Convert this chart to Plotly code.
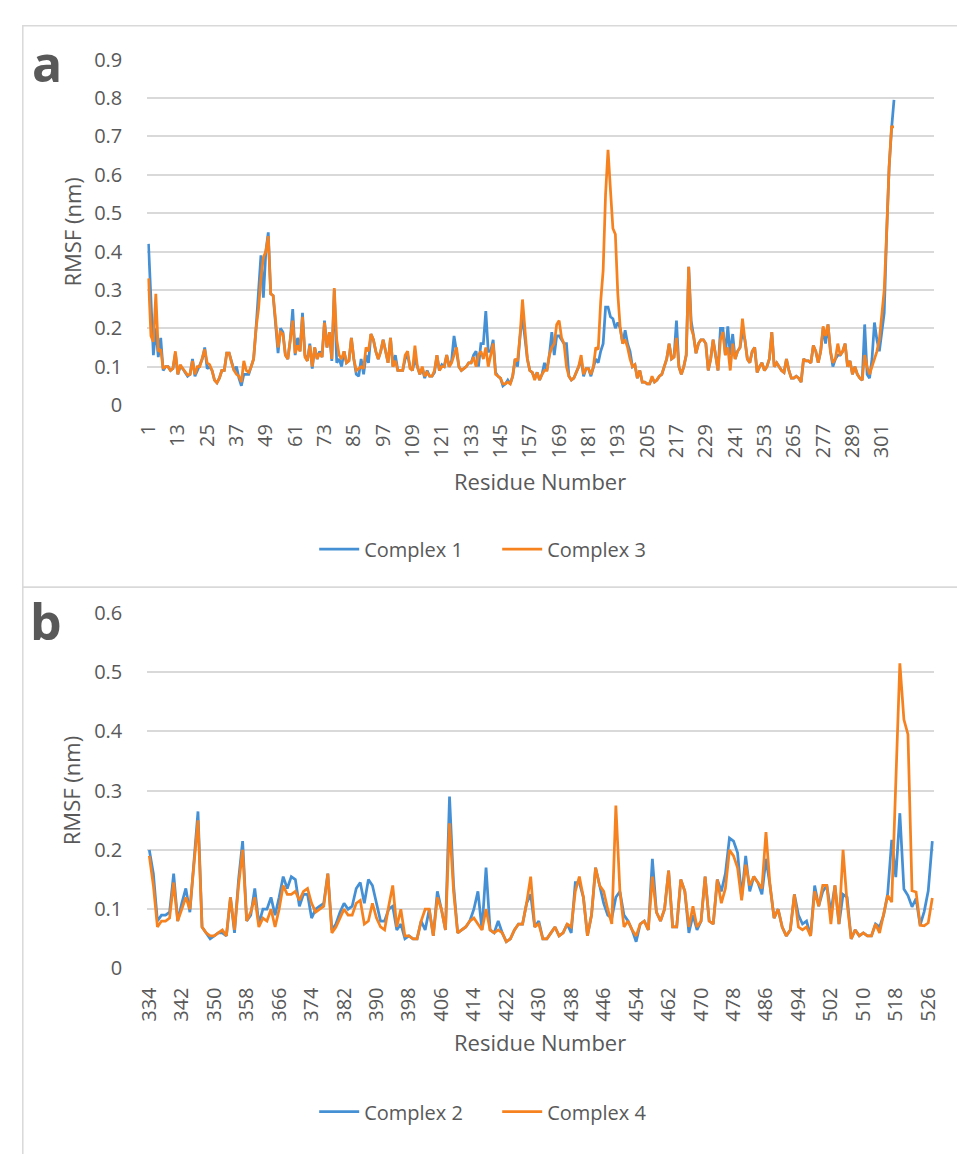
import plotly.graph_objects as go

# ---------------- Panel a data (residues 1..306) ----------------
res_a_start = 1
complex1 = [
    .42, .28, .13, .2, .125, .175, .09, .1, .1, .09,
    .095, .135, .08, .1, .095, .085, .075, .08, .12, .075,
    .09, .1, .12, .15, .095, .1, .09, .065, .058, .07,
    .09, .09, .135, .135, .11, .09, .1, .07, .05, .08,
    .08, .08, .1, .12, .2, .3, .39, .28, .4, .45,
    .29, .285, .22, .135, .2, .19, .13, .12, .17, .25,
    .13, .175, .14, .24, .13, .115, .16, .095, .15, .12,
    .14, .125, .22, .15, .19, .115, .3, .11, .12, .1,
    .14, .11, .115, .175, .12, .08, .075, .12, .08, .13,
    .11, .185, .17, .14, .12, .14, .17, .14, .11, .175,
    .1, .13, .09, .09, .09, .12,
    .13, .1, .09, .12, .1, .08, .095, .07, .09, .075,
    .075, .085, .13, .09, .105, .1, .13, .1, .115, .18,
    .14, .1, .09, .095, .1, .11, .11, .13, .14, .1,
    .16, .16, .245, .14, .14, .17, .085, .075, .07, .05,
    .055, .065, .055, .075, .12, .1, .18, .23, .18, .12,
    .09, .085, .07, .085, .065, .08, .11, .09, .13, .19,
    .13, .18, .18, .17, .16, .16, .075, .065, .07, .085,
    .1, .12, .075, .095, .095, .075, .1, .12, .11, .14,
    .16, .255, .255, .23, .225, .2, .215, .2, .16, .195,
    .16, .14, .1, .105, .07, .09, .06, .06, .055, .055,
    .07, .06, .065,
    .075, .08, .1, .12, .16, .12, .125, .22, .1, .08,
    .1, .13, .36, .22, .18, .135, .16, .17, .17, .16,
    .09, .12, .17, .125, .09, .2, .2, .13, .205, .13,
    .185, .12, .14, .15, .19, .17, .12, .11, .14, .15,
    .085, .1, .11, .09, .1, .12, .19, .1, .11, .1,
    .09, .085, .12, .09, .07, .07, .075, .07, .06, .12,
    .115, .115, .11, .155, .14, .11, .14, .2, .16, .21,
    .14, .1, .12, .13, .13, .14, .16, .1, .115, .08,
    .1, .08, .07, .065, .21, .08, .07, .12, .215, .17,
    .14, .19, .24, .45, .62, .72, .795,
]
complex3 = [
    .33, .18, .165, .29, .14, .145, .095, .1, .1, .09,
    .095, .14, .08, .105, .095, .085, .078, .08, .115, .08,
    .1, .1, .12, .145, .11, .105, .09, .065, .058, .07,
    .09, .09, .135, .135, .11, .09, .08, .075, .06, .115,
    .09, .085, .1, .12, .2, .25, .33, .385, .4, .44,
    .29, .285, .22, .15, .19, .185, .13, .12, .17, .22,
    .135, .155, .14, .23, .125, .115, .155, .1, .15, .12,
    .135, .125, .215, .15, .19, .12, .305, .17, .13, .12,
    .14, .11, .115, .175, .12, .09, .095, .1, .095, .15,
    .14, .185, .17, .14, .12, .14, .17, .14, .11, .175,
    .1, .115, .09, .09, .09, .13,
    .14, .095, .09, .155, .1, .08, .1, .075, .085, .075,
    .075, .09, .13, .09, .1, .1, .13, .1, .11, .13,
    .15, .1, .09, .095, .1, .11, .11, .125, .1, .13,
    .14, .12, .15, .1, .13, .16, .08, .075, .07, .055,
    .055, .06, .055, .075, .12, .115, .18, .275, .19, .12,
    .09, .085, .065, .085, .065, .08, .09, .09, .13, .15,
    .16, .21, .22, .175, .16, .1, .075, .065, .07, .085,
    .1, .13, .08, .095, .095, .08, .1, .15, .145, .27,
    .35, .55, .665, .56, .46, .445, .29, .2, .16, .17,
    .15, .12, .1, .105, .07, .09, .06, .06, .055, .055,
    .075, .06, .065,
    .075, .08, .1, .12, .16, .12, .125, .175, .1, .08,
    .1, .13, .36, .2, .18, .135, .16, .17, .17, .16,
    .09, .12, .17, .125, .09, .17, .19, .13, .15, .09,
    .16, .12, .14, .15, .225, .17, .12, .11, .14, .15,
    .085, .1, .11, .09, .1, .12, .19, .1, .11, .1,
    .09, .085, .12, .09, .07, .07, .075, .07, .06, .12,
    .115, .115, .11, .155, .14, .11, .14, .205, .18, .21,
    .14, .11, .12, .16, .13, .14, .16, .1, .115, .08,
    .1, .08, .07, .065, .13, .1, .08, .1, .12, .14,
    .17, .23, .3, .45, .62, .725, .725,
]
ticks_a = list(range(1, 302, 12))

# ---------------- Panel b data (residues 334..527) ----------------
res_b_start = 334
complex2 = [
    .2, .16, .08, .09, .09, .095, .16, .08, .11, .135,
    .095, .18, .265, .07, .06, .05, .055, .06, .06, .055,
    .12, .06, .15, .215, .08, .09, .135, .075, .1, .1,
    .12, .09, .12, .155, .135, .155, .15, .105, .125, .125,
    .085, .1, .105, .11, .16, .065, .075, .095, .11, .1,
    .105, .135, .145, .11, .15, .14, .11, .08, .08, .1,
    .105, .065, .075, .05, .055, .05, .05, .08, .065, .1,
    .055, .13, .1, .065, .29, .14, .06, .065, .07, .08,
    .1, .13, .065, .17, .065, .06, .08, .06, .045, .05,
    .065, .075, .075, .11, .125, .07, .08, .05, .05, .06,
    .07, .055, .06, .075, .06, .145, .145, .12, .055, .09,
    .17, .14, .11, .09, .085, .12, .13, .09, .08, .065,
    .045, .075, .08, .065, .185, .095, .08, .1, .165, .07,
    .07, .15, .13, .06, .09, .065, .08, .155, .08, .075,
    .15, .13, .16, .22, .215, .195, .12, .19, .13, .155,
    .145, .125, .185, .14, .085, .1, .07, .055, .065, .125,
    .09, .075, .08, .055, .14, .105, .13, .14, .095, .14,
    .075, .125, .12, .05, .065, .055, .06, .055, .055, .075,
    .07, .09, .126, .217, .154, .262, .134, .123, .104, .118,
    .073, .096, .131, .215,
]
complex4 = [
    .19, .14, .07, .08, .08, .085, .145, .08, .1, .12,
    .1, .17, .25, .07, .06, .055, .055, .06, .065, .055,
    .12, .065, .14, .2, .08, .095, .12, .07, .085, .08,
    .1, .07, .1, .14, .125, .125, .13, .115, .13, .135,
    .11, .095, .1, .105, .16, .06, .07, .085, .1, .09,
    .09, .11, .115, .075, .08, .11, .085, .07, .065, .105,
    .14, .07, .1, .055, .055, .05, .05, .08, .1, .1,
    .055, .12, .1, .065, .245, .13, .06, .065, .07, .08,
    .085, .075, .065, .1, .065, .06, .065, .06, .045, .05,
    .065, .075, .075, .11, .155, .07, .075, .05, .05, .06,
    .07, .055, .06, .075, .07, .13, .155, .12, .055, .09,
    .17, .14, .13, .1, .075, .275, .13, .07, .08, .065,
    .055, .075, .08, .065, .155, .095, .08, .1, .165, .07,
    .07, .15, .13, .07, .105, .07, .08, .155, .08, .075,
    .15, .11, .135, .2, .19, .17, .115, .175, .14, .155,
    .145, .135, .23, .14, .085, .1, .07, .055, .065, .125,
    .07, .065, .07, .055, .13, .105, .14, .14, .075, .14,
    .075, .2, .11, .05, .065, .055, .06, .055, .055, .075,
    .06, .09, .123, .112, .33, .515, .42, .395, .131, .129,
    .073, .072, .077, .119,
]
ticks_b = list(range(334, 527, 8))

res_a = list(range(res_a_start, res_a_start + len(complex1)))
res_b = list(range(res_b_start, res_b_start + len(complex2)))

BLUE = "#4590d4"
ORANGE = "#f6821f"
TXT = "#595959"
GRID = "#d9d9d9"
FONT = "Open Sans"
W, H = 957, 1154


def py(px):
    return 1 - px / H


def pxx(px):
    return px / W


fig = go.Figure()
fig.add_trace(go.Scatter(x=res_a, y=complex1, mode="lines", name="Complex 1",
                         line=dict(color=BLUE, width=2.75), xaxis="x", yaxis="y",
                         legend="legend"))
fig.add_trace(go.Scatter(x=res_a, y=complex3, mode="lines", name="Complex 3",
                         line=dict(color=ORANGE, width=2.75), xaxis="x", yaxis="y",
                         legend="legend"))
fig.add_trace(go.Scatter(x=res_b, y=complex2, mode="lines", name="Complex 2",
                         line=dict(color=BLUE, width=2.75), xaxis="x2", yaxis="y2",
                         legend="legend2"))
fig.add_trace(go.Scatter(x=res_b, y=complex4, mode="lines", name="Complex 4",
                         line=dict(color=ORANGE, width=2.75), xaxis="x2", yaxis="y2",
                         legend="legend2"))

tickfont = dict(family=FONT, size=20, color=TXT)
xcommon = dict(showgrid=False, zeroline=False, showline=False, ticks="",
               tickangle=-90, tickfont=tickfont, ticklabelstandoff=14)
ycommon = dict(showgrid=True, gridcolor=GRID, gridwidth=1.5, zeroline=False,
               showline=False, ticks="", tickfont=tickfont, dtick=0.1,
               ticklabelstandoff=24)

legcommon = dict(orientation="h", xanchor="center", yanchor="middle",
                 font=dict(family=FONT, size=20, color=TXT),
                 bgcolor="rgba(0,0,0,0)", itemwidth=40,
                 entrywidth=128, entrywidthmode="pixels")

fig.update_layout(
    width=W, height=H, margin=dict(l=0, r=0, t=0, b=0),
    paper_bgcolor="white", plot_bgcolor="white",
    xaxis=dict(domain=[pxx(137), pxx(940)], range=[0.5, 322.5], tickvals=ticks_a,
               anchor="y", **xcommon),
    yaxis=dict(domain=[py(400.4), py(46.7)], range=[0, 0.9], anchor="x", **ycommon),
    xaxis2=dict(domain=[pxx(137), pxx(940)], range=[333.5, 527.5], tickvals=ticks_b,
                anchor="y2", **xcommon),
    yaxis2=dict(domain=[py(977.3), py(613.3)], range=[0, 0.6], anchor="x2", **ycommon),
    legend=dict(x=pxx(494), y=py(548), **legcommon),
    legend2=dict(x=pxx(494), y=py(1124), **legcommon),
    showlegend=True,
)

# chart-area borders
for top, bot in [(12, 587), (587, 1200)]:
    fig.add_shape(type="rect", xref="paper", yref="paper",
                  x0=pxx(10), x1=1.05, y0=py(bot), y1=py(top),
                  line=dict(color=GRID, width=1.5), fillcolor="rgba(0,0,0,0)", layer="below")

ann = []
ann.append(dict(text="<b>a</b>", x=pxx(35), y=py(50), font=dict(family=FONT, size=50, color=TXT)))
ann.append(dict(text="<b>b</b>", x=pxx(34), y=py(622), font=dict(family=FONT, size=50, color=TXT)))
for yc in (223, 795):
    ann.append(dict(text="RMSF (nm)", x=pxx(60), y=py(yc), textangle=-90,
                    font=dict(family=FONT, size=22, color=TXT)))
for yc in (478, 1053):
    ann.append(dict(text="Residue Number", x=pxx(538), y=py(yc),
                    font=dict(family=FONT, size=22, color=TXT)))
for a in ann:
    a.update(xref="paper", yref="paper", showarrow=False, xanchor="center", yanchor="middle")
    fig.add_annotation(**a)

fig.write_html(
    "out.html",
    post_script="document.body.style.margin='0';document.body.style.overflow='hidden';",
)
